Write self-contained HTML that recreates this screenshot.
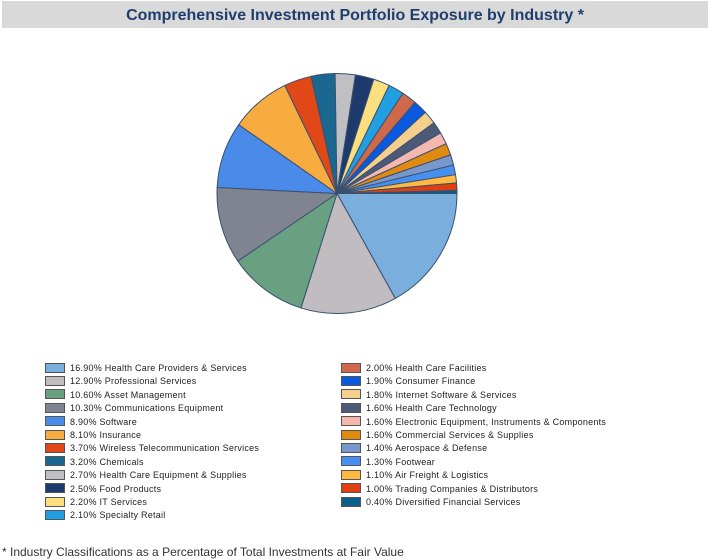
<!DOCTYPE html>
<html><head><meta charset="utf-8">
<style>
body{margin:0;width:710px;height:560px;background:#fff;position:relative;overflow:hidden;font-family:"Liberation Sans",sans-serif}
#title{position:absolute;left:2px;top:1px;width:706px;height:27px;background:#d9d9d9;color:#1f3e6e;font-weight:bold;font-size:16px;line-height:29px;text-align:center}
.lg{position:absolute;font-size:9px;color:#222;white-space:nowrap;height:13px;line-height:11px;letter-spacing:0.25px}
.lg i{display:inline-block;width:18px;height:8px;border:1px solid #555;vertical-align:middle;margin-right:5px;position:relative;top:-1px}
#foot{position:absolute;left:2px;top:545px;font-size:12px;color:#333}
</style></head><body>
<div id="title">Comprehensive Investment Portfolio Exposure by Industry *</div>
<svg id="pie" width="710" height="560" style="position:absolute;left:0;top:0"></svg>
<div id="legend"></div>
<div id="foot">* Industry Classifications as a Percentage of Total Investments at Fair Value</div>
<script>
var d=[[16.9,"Health Care Providers & Services","#7aaedc"],[12.9,"Professional Services","#c0bcc0"],[10.6,"Asset Management","#6aa082"],[10.3,"Communications Equipment","#7f8490"],[8.9,"Software","#4a8ae8"],[8.1,"Insurance","#f8ac40"],[3.7,"Wireless Telecommunication Services","#e04818"],[3.2,"Chemicals","#1a6890"],[2.7,"Health Care Equipment & Supplies","#c0c0c4"],[2.5,"Food Products","#1e3a6c"],[2.2,"IT Services","#fce080"],[2.1,"Specialty Retail","#20a0e0"],[2.0,"Health Care Facilities","#d0684c"],[1.9,"Consumer Finance","#0a5ae0"],[1.8,"Internet Software & Services","#f4d08c"],[1.6,"Health Care Technology","#4c5a78"],[1.6,"Electronic Equipment, Instruments & Components","#f4b8b0"],[1.6,"Commercial Services & Supplies","#e08a10"],[1.4,"Aerospace & Defense","#7898cc"],[1.3,"Footwear","#4890f0"],[1.1,"Air Freight & Logistics","#ffb840"],[1.0,"Trading Companies & Distributors","#e04010"],[0.4,"Diversified Financial Services","#0e5e8c"]];
var tot=0;d.forEach(function(x){tot+=x[0]});
var cx=337,cy=193.5,r=120,a=0,s="";
d.forEach(function(x){var b=a+x[0]/tot*2*Math.PI;
var x1=cx+r*Math.cos(a),y1=cy+r*Math.sin(a),x2=cx+r*Math.cos(b),y2=cy+r*Math.sin(b);
s+='<path d="M'+cx+','+cy+'L'+x1.toFixed(2)+','+y1.toFixed(2)+'A'+r+','+r+' 0 '+((b-a)>Math.PI?1:0)+' 1 '+x2.toFixed(2)+','+y2.toFixed(2)+'Z" fill="'+x[2]+'" stroke="#3a5070" stroke-width="1"/>';a=b;});
document.getElementById('pie').innerHTML=s;
var h="";d.forEach(function(x,i){var col=i<12?0:1,row=i<12?i:i-12;
h+='<div class="lg" style="left:'+(col?341:45)+'px;top:'+(363+row*13.4)+'px"><i style="background:'+x[2]+'"></i>'+x[0].toFixed(2)+'% '+x[1].replace(/&/g,'&amp;')+'</div>';});
document.getElementById('legend').innerHTML=h;
</script>
</body></html>
